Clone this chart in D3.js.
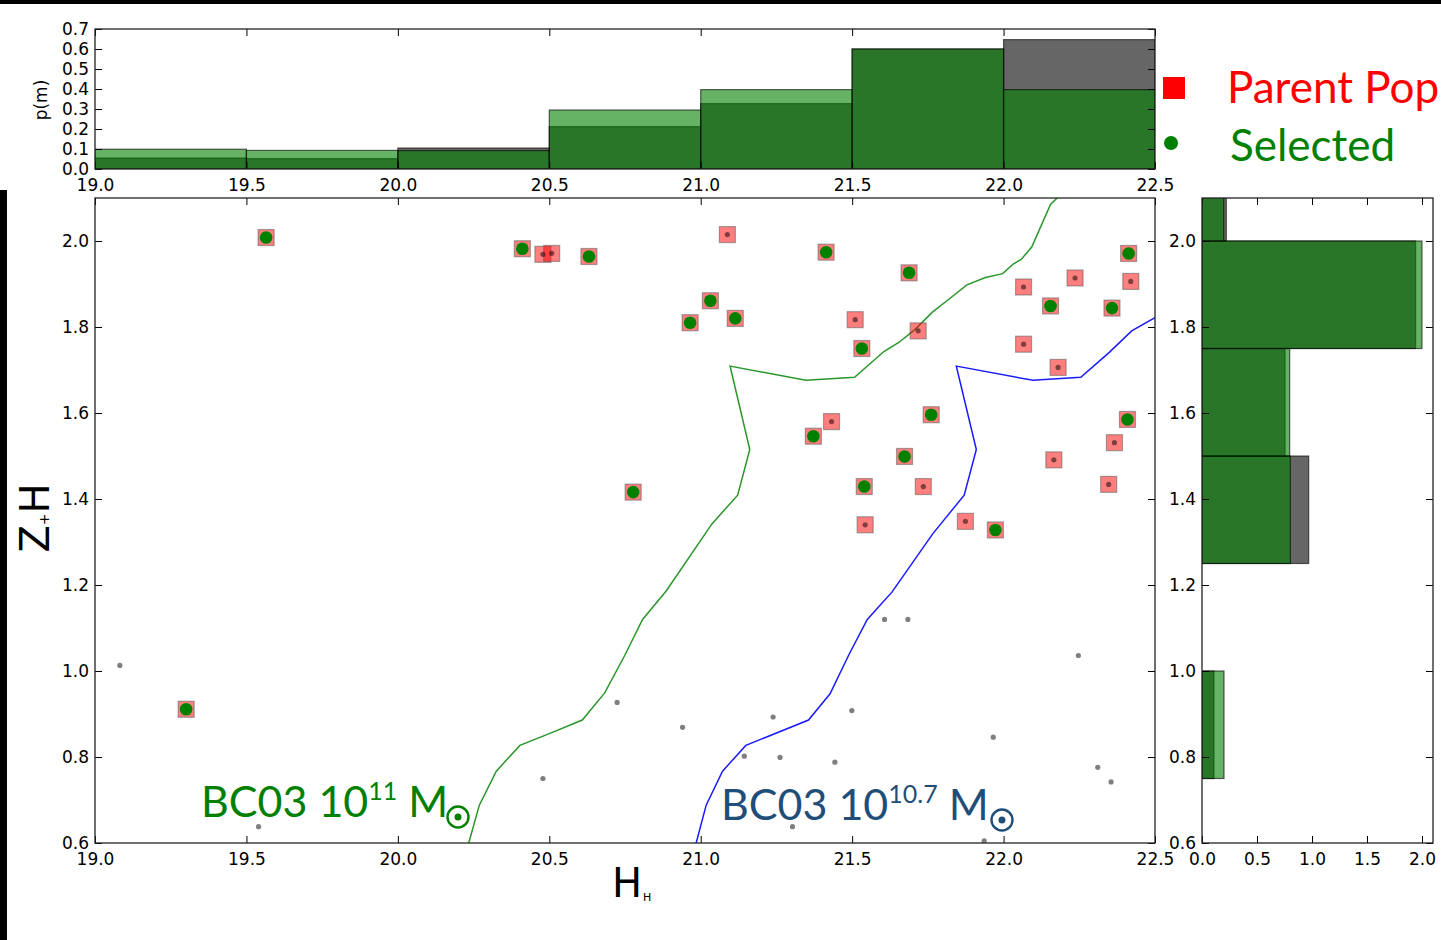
<!DOCTYPE html>
<html>
<head>
<meta charset="utf-8">
<script src="https://cdn.jsdelivr.net/npm/d3@7"></script>
<style>
  body { margin: 0; background: #fff; }
  svg { display: block; }
  .tick text { font-family: "DejaVu Sans", sans-serif; font-size: 17px; fill: #000; }
  .tick line { stroke: #000; }
</style>
</head>
<body>
<svg id="chart" width="1441" height="940"></svg>
<script>
// ---------- data ----------
// top histogram (p(m) vs H), bins of 0.5
const topBins = [19.0, 19.5, 20.0, 20.5, 21.0, 21.5, 22.0, 22.5];
const topParent = [0.055, 0.052, 0.105, 0.212, 0.327, 0.600, 0.647];
const topSelected = [0.099, 0.093, 0.092, 0.295, 0.397, 0.600, 0.397];

// right histogram (Z-H), bins of 0.25
const sideBins = [0.50, 0.75, 1.00, 1.25, 1.50, 1.75, 2.00, 2.25];
const sideParent = [0, 0.109, 0, 0.970, 0.755, 1.942, 0.221];
const sideSelected = [0, 0.200, 0, 0.803, 0.797, 2.000, 0.197];

// parent population (red squares)
const parentH = [19.565, 20.411, 20.479, 20.508, 20.631, 20.777, 21.088, 21.414, 21.688, 21.032,
  20.965, 21.114, 21.510, 21.532, 21.718, 22.066, 22.236, 22.155, 22.413, 22.420,
  22.358, 22.066, 22.180, 21.761, 21.432, 21.372, 21.673, 21.540, 21.735, 22.409,
  22.366, 22.166, 22.347, 21.543, 21.874, 21.973, 19.301];
const parentZH = [2.008, 1.982, 1.969, 1.971, 1.964, 1.416, 2.015, 1.974, 1.926, 1.861,
  1.810, 1.820, 1.817, 1.750, 1.791, 1.893, 1.914, 1.849, 1.971, 1.906,
  1.844, 1.760, 1.706, 1.596, 1.580, 1.546, 1.499, 1.429, 1.429, 1.585,
  1.531, 1.491, 1.434, 1.340, 1.348, 1.328, 0.911];

// selected (green dots)
const selH = [19.565, 20.411, 20.631, 20.777, 21.414, 21.688, 21.032, 20.965, 21.114, 21.532,
  22.155, 22.413, 22.358, 21.761, 21.372, 21.673, 21.540, 22.409, 21.973, 19.301];
const selZH = [2.008, 1.982, 1.964, 1.416, 1.974, 1.926, 1.861, 1.810, 1.820, 1.750,
  1.849, 1.971, 1.844, 1.596, 1.546, 1.499, 1.429, 1.585, 1.328, 0.911];

// remaining field galaxies (small grey dots)
const fieldH = [19.082, 19.540, 20.479, 20.724, 20.940, 21.239, 21.144, 21.262, 21.443, 21.499,
  21.607, 21.684, 21.966, 22.247, 22.311, 22.355, 21.303, 21.936];
const fieldZH = [1.013, 0.638, 0.750, 0.927, 0.869, 0.893, 0.802, 0.799, 0.788, 0.908,
  1.120, 1.120, 0.846, 1.036, 0.776, 0.742, 0.638, 0.605];

// BC03 model tracks
const track11H = [20.234, 20.269, 20.325, 20.403, 20.506, 20.609, 20.683, 20.749, 20.808, 20.886,
  21.037, 21.122, 21.162, 21.097, 21.347, 21.508, 21.605, 21.654, 21.709, 21.764,
  21.813, 21.879, 21.940, 21.997, 22.033, 22.058, 22.093, 22.155, 22.177];
const track11ZH = [0.600, 0.688, 0.767, 0.827, 0.856, 0.886, 0.949, 1.036, 1.120, 1.186,
  1.342, 1.409, 1.515, 1.709, 1.676, 1.683, 1.743, 1.764, 1.795, 1.834,
  1.861, 1.898, 1.915, 1.924, 1.947, 1.957, 1.986, 2.085, 2.100];
const track107H = [20.985, 21.018, 21.072, 21.149, 21.356, 21.427, 21.490, 21.550, 21.632, 21.766,
  21.870, 21.910, 21.844, 22.097, 22.255, 22.349, 22.423, 22.500];
const track107ZH = [0.600, 0.688, 0.767, 0.827, 0.886, 0.947, 1.039, 1.120, 1.184, 1.319,
  1.409, 1.515, 1.709, 1.676, 1.683, 1.741, 1.791, 1.822];

const hTicks = [19.0, 19.5, 20.0, 20.5, 21.0, 21.5, 22.0, 22.5];
const zhTicks = [0.6, 0.8, 1.0, 1.2, 1.4, 1.6, 1.8, 2.0];
const pTicks = [0.0, 0.1, 0.2, 0.3, 0.4, 0.5, 0.6, 0.7];
const sideTicks = [0.0, 0.5, 1.0, 1.5, 2.0];

// ---------- setup ----------
const svg = d3.select("#chart");
const fmt = d3.format(".1f");

const main = {x0: 95, x1: 1155, y0: 198, y1: 843};
const topBox = {x0: 95, x1: 1155, y0: 29, y1: 169};
const side = {x0: 1202, x1: 1433, y0: 198, y1: 843};

const x = d3.scaleLinear().domain([19, 22.5]).range([main.x0, main.x1]);
const y = d3.scaleLinear().domain([0.6, 2.1]).range([main.y1, main.y0]);
const yTop = d3.scaleLinear().domain([0, 0.7]).range([topBox.y1, topBox.y0]);
const xSide = d3.scaleLinear().domain([0, 2.1]).range([side.x0, side.x1]);

// black edges of the screenshot
svg.append("rect").attr("x", 0).attr("y", 0).attr("width", 1441).attr("height", 4).attr("fill", "#000");
svg.append("rect").attr("x", 0).attr("y", 190).attr("width", 7).attr("height", 750).attr("fill", "#000");

const defs = svg.append("defs");
function clip(id, b) {
  defs.append("clipPath").attr("id", id).append("rect")
    .attr("x", b.x0).attr("y", b.y0).attr("width", b.x1 - b.x0).attr("height", b.y1 - b.y0);
}
clip("clipMain", main);
clip("clipTop", topBox);
clip("clipSide", side);

// axes helper: labelled bottom/left, blank top/right, ticks pointing inward
function axes(b, xs, ys, xt, yt) {
  const g = svg.append("g");
  g.append("g").attr("transform", `translate(0,${b.y1})`)
    .call(d3.axisBottom(xs).tickValues(xt).tickSize(-7).tickPadding(10).tickFormat(fmt));
  g.append("g").attr("transform", `translate(0,${b.y0})`)
    .call(d3.axisTop(xs).tickValues(xt).tickSize(-7).tickFormat(""));
  g.append("g").attr("transform", `translate(${b.x0},0)`)
    .call(d3.axisLeft(ys).tickValues(yt).tickSize(-7).tickPadding(6).tickFormat(fmt));
  g.append("g").attr("transform", `translate(${b.x1},0)`)
    .call(d3.axisRight(ys).tickValues(yt).tickSize(-7).tickFormat(""));
  g.selectAll(".domain").remove();
  g.append("rect").attr("x", b.x0).attr("y", b.y0)
    .attr("width", b.x1 - b.x0).attr("height", b.y1 - b.y0)
    .attr("fill", "none").attr("stroke", "#222").attr("stroke-width", 1.3);
}

// ---------- top histogram ----------
const gTop = svg.append("g").attr("clip-path", "url(#clipTop)");
function topHist(vals, color) {
  gTop.append("g").selectAll("rect").data(vals).join("rect")
    .attr("x", (d, i) => x(topBins[i]))
    .attr("width", (d, i) => x(topBins[i + 1]) - x(topBins[i]))
    .attr("y", d => yTop(d))
    .attr("height", d => yTop(0) - yTop(d))
    .attr("fill", color).attr("fill-opacity", 0.6)
    .attr("stroke", "#000").attr("stroke-opacity", 0.6).attr("stroke-width", 1.2);
}
topHist(topParent, "#000");
topHist(topSelected, "green");
axes(topBox, x, yTop, hTicks, pTicks);

svg.append("text")
  .attr("transform", "translate(47,100) rotate(-90)")
  .attr("text-anchor", "middle")
  .style("font-family", "DejaVu Sans, sans-serif").style("font-size", "17px")
  .text("p(m)");

// ---------- side histogram ----------
const gSide = svg.append("g").attr("clip-path", "url(#clipSide)");
function sideHist(vals, color) {
  gSide.append("g").selectAll("rect").data(vals).join("rect")
    .attr("x", xSide(0))
    .attr("width", d => xSide(d) - xSide(0))
    .attr("y", (d, i) => y(sideBins[i + 1]))
    .attr("height", (d, i) => y(sideBins[i]) - y(sideBins[i + 1]))
    .attr("fill", color).attr("fill-opacity", 0.6)
    .attr("stroke", "#000").attr("stroke-opacity", d => d > 0 ? 0.6 : 0).attr("stroke-width", 1.2);
}
sideHist(sideParent, "#000");
sideHist(sideSelected, "green");
axes(side, xSide, y, sideTicks, zhTicks);

// ---------- main scatter ----------
const gMain = svg.append("g").attr("clip-path", "url(#clipMain)");
const line = d3.line().x(d => x(d[0])).y(d => y(d[1]));

gMain.append("path").datum(d3.zip(track11H, track11ZH))
  .attr("d", line).attr("fill", "none").attr("stroke", "#2a962a").attr("stroke-width", 1.5);
gMain.append("path").datum(d3.zip(track107H, track107ZH))
  .attr("d", line).attr("fill", "none").attr("stroke", "#1a1aff").attr("stroke-width", 1.5);

const sq = 16;
gMain.append("g").selectAll("rect").data(d3.zip(parentH, parentZH)).join("rect")
  .attr("x", d => x(d[0]) - sq / 2).attr("y", d => y(d[1]) - sq / 2)
  .attr("width", sq).attr("height", sq)
  .attr("fill", "red").attr("fill-opacity", 0.5)
  .attr("stroke", "#555").attr("stroke-opacity", 0.5).attr("stroke-width", 1.2);

gMain.append("g").selectAll("circle").data(d3.zip(parentH.concat(fieldH), parentZH.concat(fieldZH))).join("circle")
  .attr("cx", d => x(d[0])).attr("cy", d => y(d[1])).attr("r", 2.6)
  .attr("fill", "#000").attr("fill-opacity", 0.5);

gMain.append("g").selectAll("circle").data(d3.zip(selH, selZH)).join("circle")
  .attr("cx", d => x(d[0])).attr("cy", d => y(d[1])).attr("r", 6.3)
  .attr("fill", "#008000");

axes(main, x, y, hTicks, zhTicks);

// axis labels (garbled glyphs as in the original)
const xl = svg.append("text").attr("x", 612).attr("y", 897)
  .style("font-family", "DejaVu Sans, sans-serif").style("font-size", "40px");
xl.append("tspan").text("H");
xl.append("tspan").attr("dx", 1).attr("dy", 4).style("font-size", "11px").text("H");

const yl = svg.append("text").attr("transform", "translate(49,518) rotate(-90)")
  .attr("text-anchor", "middle")
  .style("font-family", "DejaVu Sans, sans-serif").style("font-size", "40px");
yl.append("tspan").text("Z");
yl.append("tspan").style("font-size", "14px").text("+");
yl.append("tspan").text("H");

// ---------- annotations ----------
function note(x0, yb, sup, color, sunX) {
  const t = svg.append("text").attr("x", x0).attr("y", yb)
    .style("font-family", "Lato, sans-serif").style("font-size", "43px").attr("fill", color);
  t.append("tspan").text("BC03 10");
  t.append("tspan").attr("dy", -17).style("font-size", "25px").text(sup);
  t.append("tspan").attr("dy", 17).text(" M");
  svg.append("circle").attr("cx", sunX).attr("cy", yb).attr("r", 10.5)
    .attr("fill", "none").attr("stroke", color).attr("stroke-width", 2.4);
  svg.append("circle").attr("cx", sunX).attr("cy", yb).attr("r", 3.5).attr("fill", color);
}
note(201, 817, "11", "#008000", 458);
note(721, 820, "10.7", "#1f4e79", 1002);

// ---------- legend ----------
svg.append("rect").attr("x", 1163).attr("y", 77).attr("width", 22).attr("height", 22).attr("fill", "red");
svg.append("text").attr("x", 1227).attr("y", 103).attr("fill", "red")
  .style("font-family", "Lato, sans-serif").style("font-size", "44px").text("Parent Pop");
svg.append("circle").attr("cx", 1171).attr("cy", 143).attr("r", 7).attr("fill", "#008000");
svg.append("text").attr("x", 1230).attr("y", 161).attr("fill", "#008000")
  .style("font-family", "Lato, sans-serif").style("font-size", "44px").text("Selected");
</script>
</body>
</html>
